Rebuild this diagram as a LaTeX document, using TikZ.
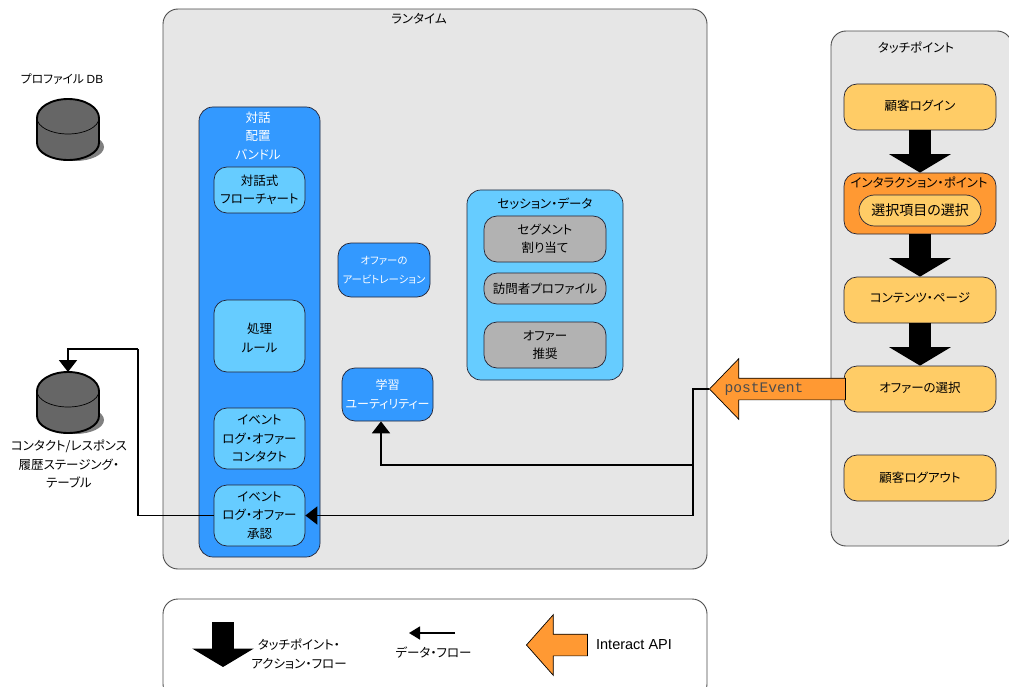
\documentclass[tikz,border=0pt]{standalone}
\usepackage{fontspec}
\setmainfont{Noto Sans CJK JP}[RawFeature={+palt}]
\newfontfamily\latinfont{Liberation Sans}
\newfontfamily\monofont{Liberation Mono}
\usetikzlibrary{arrows.meta,shapes.arrows,calc}
\definecolor{panelgrey}{HTML}{E6E6E6}
\definecolor{blueb}{HTML}{3399FF}
\definecolor{lightb}{HTML}{66CCFF}
\definecolor{greyb}{HTML}{B2B2B2}
\definecolor{orangeb}{HTML}{FF9933}
\definecolor{yellowb}{HTML}{FFCC66}
\definecolor{edgec}{HTML}{222233}
\definecolor{cyl}{HTML}{666666}
\tikzset{
  x=1pt,y=-1pt,
  every node/.style={font=\fontsize{12.5}{18.5}\selectfont,align=center,inner sep=0pt,text=black},
  boxb/.style={draw=edgec,line width=0.7pt,rounded corners=#1},
  boxb/.default=13pt,
  panel/.style={draw=black!70,line width=0.9pt,fill=panelgrey,rounded corners=15pt},
  flowbox/.style={boxb,fill=yellowb,minimum width=152pt,minimum height=46pt,text depth=4pt},
  smallb/.style={boxb,fill=lightb,minimum width=91pt},
  whiteb/.style={boxb,fill=blueb,text=white,minimum width=92pt,minimum height=54pt},
  greybox/.style={boxb,fill=greyb,minimum width=122pt,minimum height=46pt},
  dataflow/.style={line width=1.9pt,black,-{Triangle[width=18pt,length=12pt]}},
  actionflow/.style={line width=22pt,black,-{Triangle[width=61pt,length=18.5pt]}},
  apiarrow/.style={shape=single arrow,shape border rotate=180,draw=black,line width=0.7pt,fill=orangeb,
     inner xsep=0pt,inner ysep=10.5pt,single arrow tip angle=92,single arrow head extend=19.5pt},
}
\newcommand{\dbdraw}[1]{%
  \begin{scope}[shift={(0,#1)}]
    \fill[black!50] (75,67) ellipse [x radius=29pt,y radius=14pt];
    \filldraw[fill=cyl,draw=black,line width=1.9pt,line join=round]
      (37,38) arc[start angle=180,end angle=0,x radius=31pt,y radius=19pt]
      -- (99,63) arc[start angle=0,end angle=-180,x radius=31pt,y radius=17pt] -- cycle;
    \draw[black,line width=0.7pt] (37,38) arc[start angle=180,end angle=360,x radius=31pt,y radius=16pt];
  \end{scope}}
\begin{document}
\begin{tikzpicture}
\useasboundingbox (0,0) rectangle (1009,687);
\clip (0,0) rectangle (1009,687);
% panels
\node[panel,minimum width=544pt,minimum height=560pt] (runtime) at (435,289) {};
\node[panel,minimum width=181pt,minimum height=515pt] (touch) at (921.5,288.5) {};
\node[panel,fill=white,minimum width=544pt,minimum height=100pt] (legend) at (435,649) {};
\node (runtimet) at (419,19) {ランタイム};
\node (toucht) at (916,48) {タッチポイント};
% databases
\node[font=\fontsize{11.8}{18.5}\selectfont] (dbt) at (62,79) {プロファイル {\latinfont DB}};
\dbdraw{80}
\dbdraw{353}
\coordinate (histdb) at (68,372);
\node (histt) at (69,464) {コンタクト/レスポンス\\履歴ステージング・\\テーブル};
% bundle
\node[boxb=14pt,fill=blueb,minimum width=121pt,minimum height=450pt] (bundle) at (259.5,332) {};
\node[text=white] (bundlet) at (258,136) {対話\\配置\\バンドル};
\node[smallb,minimum height=46pt] (flow) at (259.5,190) {対話式\\フローチャート};
\node[smallb,minimum height=72pt] (rule) at (259.5,336) {};
\node (rulet) at (259.5,338) {処理\\ルール};
\node[smallb,minimum height=61pt] (contact) at (259.5,438.5) {イベント\\ログ・オファー\\コンタクト};
\node[smallb,minimum height=61pt] (accept) at (259.5,515.5) {イベント\\ログ・オファー\\承認};
% middle
\node[whiteb,font=\fontsize{10.4}{18.5}\selectfont] (arb) at (384,270) {オファーの\\アービトレーション};
\node[whiteb,minimum width=91pt,minimum height=53pt,font=\fontsize{12}{18.5}\selectfont] (learn) at (387.5,394.5) {学習\\ユーティリティー};
% session
\node[boxb=14pt,fill=lightb,minimum width=156pt,minimum height=190pt] (session) at (545,285) {};
\node (sessiont) at (545,204) {セッション・データ};
\node[greybox] (seg) at (545,239) {セグメント\\割り当て};
\node[greybox,minimum height=31pt] (visitor) at (545,288.5) {訪問者プロファイル};
\node[greybox] (rec) at (545,345) {オファー\\推奨};
% touchpoint flow
\node[flowbox] (login) at (920,107) {顧客ログイン};
\node[flowbox,fill=orangeb,minimum height=61pt] (ip) at (920,203.5) {};
\node (ipt) at (919,183) {インタラクション・ポイント};
\node[boxb=15.5pt,fill=yellowb,minimum width=122pt,minimum height=31pt,font=\fontsize{14}{18}\selectfont] (choice) at (920,210.5) {選択項目の選択};
\node[flowbox] (content) at (920,300) {コンテンツ・ページ};
\node[flowbox] (offer) at (920,389) {オファーの選択};
\node[flowbox,text depth=2pt] (logout) at (920,478) {顧客ログアウト};
\draw[actionflow] (login.south) -- (ip.north);
\draw[actionflow] (ip.south) -- (content.north);
\draw[actionflow] (content.south) -- (offer.north);
% postEvent
\node[apiarrow,minimum height=136pt,anchor=tip] (post) at (709,389) {};
\node[font=\monofont\fontsize{14.6}{16}\selectfont,text=black!70] (postt) at (764,389) {postEvent};
\draw[dataflow] (post.tip) -- ++(-16,0) |- (accept.east);
\coordinate (j1) at (693,465);
\draw[dataflow] (j1) -| ([xshift=-6.5pt]learn.south);
\coordinate (hi) at (138,349);
\draw[line width=1.9pt] (accept.west) -| (hi);
\draw[dataflow] (hi) -| (histdb);
% legend
\coordinate (la1) at (223,622);
\coordinate (la2) at (223,667);
\draw[actionflow] (la1) -- (la2);
\node (lat) at (299,654) {タッチポイント・\\アクション・フロー};
\coordinate (ld1) at (455,633);
\coordinate (ld2) at (409,633);
\draw[line width=1.6pt,-{Triangle[width=13pt,length=11pt]}] (ld1) -- (ld2);
\node (ldt) at (433.5,652.5) {データ・フロー};
\node[apiarrow,single arrow tip angle=97,minimum height=61pt,anchor=tip] (lapi) at (526,645) {};
\node[font=\latinfont\fontsize{14.5}{16}\selectfont] (lapit) at (634,645) {Interact API};
\end{tikzpicture}
\end{document}
